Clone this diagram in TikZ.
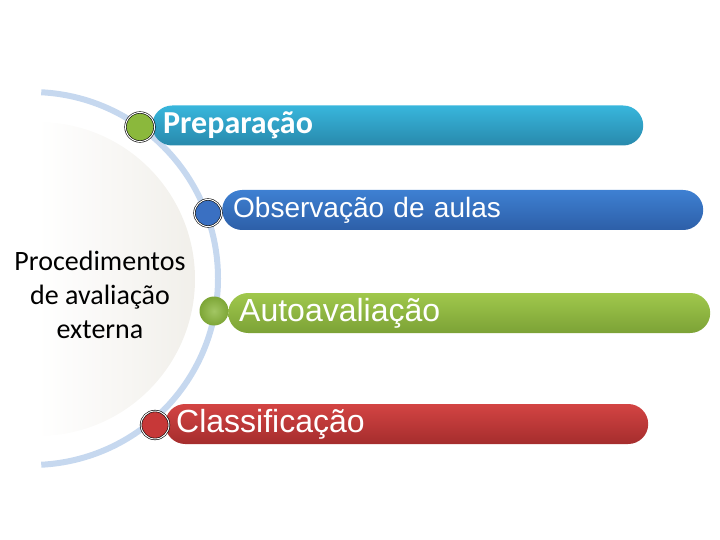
\documentclass[tikz,border=0pt]{standalone}
\usepackage{fontspec}
\usepackage{xcolor}
\usepackage{tikz}
\usetikzlibrary{positioning}
\setmainfont{Carlito}
\newfontfamily\arialfont{Liberation Sans}
\definecolor{arcblue}{HTML}{C6D8EF}
\definecolor{discgrey}{HTML}{F1EFEA}
\definecolor{tealtop}{HTML}{38B6DC}
\definecolor{tealbot}{HTML}{2889AC}
\definecolor{bluetop}{HTML}{3E80D2}
\definecolor{bluebot}{HTML}{2D5FA8}
\definecolor{greentop}{HTML}{A0C84C}
\definecolor{greenbot}{HTML}{7CA236}
\definecolor{redtop}{HTML}{D34443}
\definecolor{redbot}{HTML}{A52D2D}
\definecolor{dotgreen}{HTML}{8BB83C}
\definecolor{dotblue}{HTML}{3A70C2}
\definecolor{dotred}{HTML}{C73838}

\begin{document}
\begin{tikzpicture}[x=1pt,y=1pt,
   bar/.style={rectangle, rounded corners=20pt, minimum height=40pt, anchor=west,
     inner xsep=11pt, align=left, text=white},
   dot/.style={circle, inner sep=0pt},
   ringed/.style={draw=black, double=white, double distance=1pt, line width=0.6pt}
]
\useasboundingbox (0,0) rectangle (720,-540);

\shade[left color=white, right color=discgrey, draw=none] (38,-122) arc[start angle=90, end angle=-90, radius=157] -- cycle;
\draw[arcblue, line width=6pt] (31.5,-278.5) ++(87:186.5) arc[start angle=87, end angle=-87, radius=186.5];

\node[align=center, font=\fontsize{28}{34}\selectfont] (proc) at (100,-295) {Procedimentos\\de avaliação\\externa};

\node[bar, top color=tealtop, bottom color=tealbot, text width=469pt,
  font=\fontsize{32}{34}\selectfont\bfseries] (prep) at (152,-125.5) {Preparação};
\node[bar, top color=bluetop, bottom color=bluebot, text width=459pt,
  font=\fontsize{28}{30}\arialfont] (obs) at (222,-210) {Observação de aulas};
\node[bar, top color=greentop, bottom color=greenbot, text width=460pt,
  font=\fontsize{32}{34}\arialfont] (auto) at (228,-313) {Autoavaliação};
\node[bar, top color=redtop, bottom color=redbot, text width=461pt,
  font=\fontsize{32}{34}\arialfont] (class) at (165,-424) {Classificação};

\node[dot, ringed, fill=dotgreen, minimum size=29pt] (d1) at (140,-127) {};
\node[dot, ringed, fill=dotblue, minimum size=27pt] (d2) at (208,-213) {};
\node[dot, inner color=dotgreen!80!white, outer color=dotgreen!90!black, minimum size=29pt] (d3) at (214,-311) {};
\node[dot, ringed, fill=dotred, minimum size=28pt] (d4) at (155,-425) {};
\end{tikzpicture}
\end{document}
